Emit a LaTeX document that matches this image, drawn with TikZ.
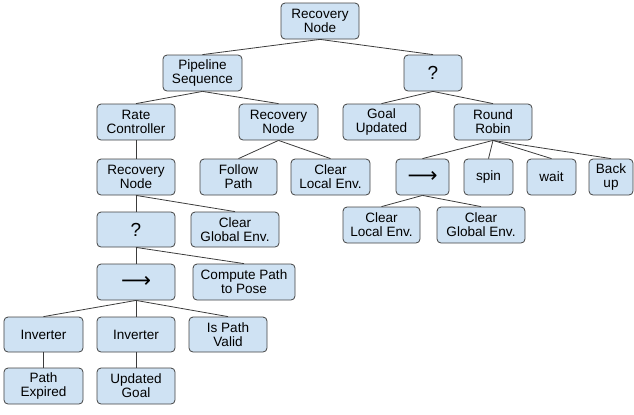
\documentclass[tikz,border=0pt]{standalone}
\usepackage{fontspec}
\setmainfont{Liberation Sans}
\newfontfamily\dejavu{DejaVu Sans}
\definecolor{boxfill}{HTML}{CFE2F3}
\definecolor{boxline}{HTML}{434343}
\definecolor{edgecol}{HTML}{3C3C3C}
\newcommand{\seqarrow}{\raisebox{-1bp}{\resizebox{30bp}{!}{\dejavu ⟶}}}
\begin{document}
\begin{tikzpicture}[x=1bp,y=-1bp,
  bt/.style={draw=boxline,fill=boxfill,rounded corners=4bp,minimum height=36bp,inner sep=0pt,align=center,font=\fontsize{13.6}{14.2}\selectfont,line width=0.8bp},
  qm/.style={font=\fontsize{19}{19}\selectfont},
  ed/.style={draw=edgecol,line width=0.8bp}]
\useasboundingbox (0,0) rectangle (634,414);
\node[bt,minimum width=78bp] (root) at (320,21) {Recovery\\Node};
\node[bt,minimum width=79bp] (ps) at (202.5,73) {Pipeline\\Sequence};
\node[bt,qm,minimum width=58bp] (q1) at (433,73) {?};
\node[bt,minimum width=78bp] (rc) at (136,122) {Rate\\Controller};
\node[bt,minimum width=79bp] (rn2) at (278.5,122) {Recovery\\Node};
\node[bt,minimum width=77bp] (gu) at (381.5,122) {Goal\\Updated};
\node[bt,minimum width=78bp] (rr) at (493,122) {Round\\Robin};
\node[bt,minimum width=78bp] (rn3) at (136,177) {Recovery\\Node};
\node[bt,minimum width=77bp] (fp) at (238.5,177) {Follow\\Path};
\node[bt,minimum width=79bp] (cl1) at (330.5,177) {Clear\\Local Env.};
\node[bt,minimum width=53bp] (seq1) at (422.5,177) {\seqarrow};
\node[bt,minimum width=49bp] (spin) at (488.5,177) {spin};
\node[bt,minimum width=49bp] (wait) at (551.5,177) {wait};
\node[bt,minimum width=44bp] (bu) at (611,177) {Back\\up};
\node[bt,minimum width=77bp] (cl2) at (381.5,225) {Clear\\Local Env.};
\node[bt,minimum width=88bp] (cg2) at (481,225) {Clear\\Global Env.};
\node[bt,qm,minimum width=78bp,minimum height=35bp] (q2) at (136,229.5) {?};
\node[bt,minimum width=88bp,minimum height=35bp] (cg1) at (235,229.5) {Clear\\Global Env.};
\node[bt,minimum width=78bp] (seq2) at (136,282) {\seqarrow};
\node[bt,minimum width=102bp] (cp) at (244,282) {Compute Path\\to Pose};
\node[bt,minimum width=79bp,minimum height=35bp] (inv1) at (43.5,334.5) {Inverter};
\node[bt,minimum width=78bp,minimum height=35bp] (inv2) at (136,334.5) {Inverter};
\node[bt,minimum width=78bp,minimum height=35bp] (ipv) at (228,334.5) {Is Path\\Valid};
\node[bt,minimum width=79bp] (pe) at (43.5,386) {Path\\Expired};
\node[bt,minimum width=78bp] (ug) at (136,386) {Updated\\Goal};
\foreach \a/\b in {root/ps,root/q1,ps/rc,ps/rn2,q1/gu,q1/rr,rc/rn3,rn2/fp,rn2/cl1,rr/seq1,rr/spin,rr/wait,rr/bu,seq1/cl2,seq1/cg2,rn3/q2,rn3/cg1,q2/seq2,q2/cp,seq2/inv1,seq2/inv2,seq2/ipv,inv1/pe,inv2/ug}
  \draw[ed] (\a.south) -- (\b.north);
\end{tikzpicture}
\end{document}
